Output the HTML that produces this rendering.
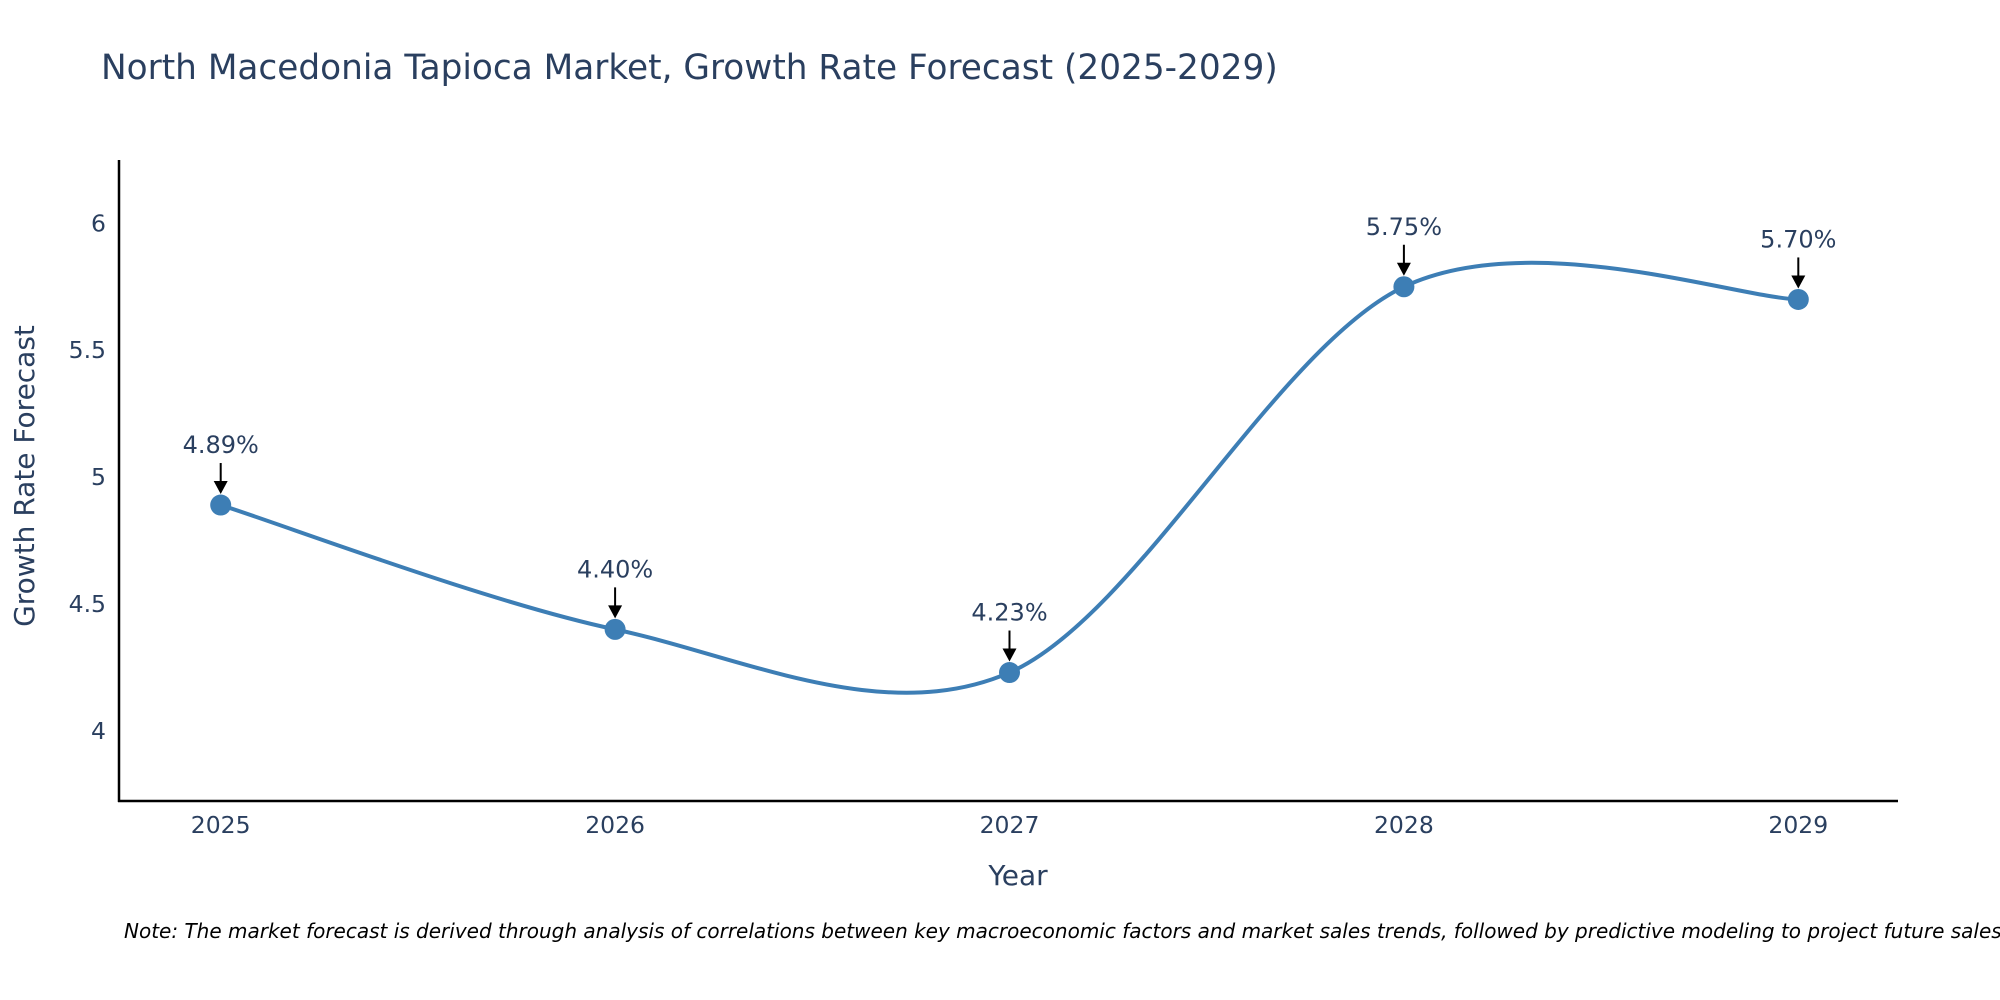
<!DOCTYPE html>
<html><head><meta charset="utf-8"><style>
html,body{margin:0;padding:0;background:#fff;}
svg{display:block;font-family:"DejaVu Sans","Liberation Sans",sans-serif;}
</style></head><body>
<svg id="chart" width="2000" height="1000" viewBox="0 0 2000 1000">
<text x="101" y="79" font-size="34.3" fill="#2a3f5f">North Macedonia Tapioca Market, Growth Rate Forecast (2025-2029)</text>
<g id="yticks"></g>
<g id="xticks"></g>
<line x1="119" y1="160" x2="119" y2="802" stroke="#000" stroke-width="2.5"/>
<line x1="118" y1="801" x2="1898" y2="801" stroke="#000" stroke-width="2.5"/>
<g id="series"></g>
<g id="annots"></g>
<text x="1018" y="885" font-size="28" fill="#2a3f5f" text-anchor="middle">Year</text>
<text transform="translate(34,476) rotate(-90)" font-size="28" fill="#2a3f5f" text-anchor="middle">Growth Rate Forecast</text>
<text x="124" y="938" font-size="20" font-style="italic" fill="#000">Note: The market forecast is derived through analysis of correlations between key macroeconomic factors and market sales trends, followed by predictive modeling to project future sales.</text>
</svg>
<script>
const years = [2025, 2026, 2027, 2028, 2029];
const growth = [4.89, 4.40, 4.23, 5.75, 5.70];
const labels = ["4.89%", "4.40%", "4.23%", "5.75%", "5.70%"];
const yTicks = [4, 4.5, 5, 5.5, 6];
const yTickLabels = ["4", "4.5", "5", "5.5", "6"];

const NS = "http://www.w3.org/2000/svg";
function xS(v){ return 220.7 + (v - 2025) * 394.4; }
function yS(v){ return 730.9 - (v - 4) * 253.8; }
function mk(tag, attrs, parent, txt){
  const e = document.createElementNS(NS, tag);
  for (const k in attrs) e.setAttribute(k, attrs[k]);
  if (txt !== undefined) e.textContent = txt;
  parent.appendChild(e);
  return e;
}
const yt = document.getElementById('yticks');
yTicks.forEach((v, i) => {
  const t = mk('text', {x: 106, y: yS(v) + 8, 'font-size': 23.5, fill: '#2a3f5f', 'text-anchor': 'end'}, yt, yTickLabels[i]);
  
  
});
const xt = document.getElementById('xticks');
years.forEach(v => {
  const t = mk('text', {x: xS(v), y: 833, 'font-size': 23.5, fill: '#2a3f5f', 'text-anchor': 'middle'}, xt, String(v));
  
  
});
const pts = years.map((y, i) => [xS(y), yS(growth[i])]);
let d = `M${pts[0][0]},${pts[0][1]}`;
const k = 0.16;
for (let i = 0; i < pts.length - 1; i++) {
  const p0 = pts[Math.max(0, i - 1)], p1 = pts[i], p2 = pts[i + 1], p3 = pts[Math.min(pts.length - 1, i + 2)];
  const c1 = [p1[0] + (p2[0] - p0[0]) * k, p1[1] + (p2[1] - p0[1]) * k];
  const c2 = [p2[0] - (p3[0] - p1[0]) * k, p2[1] - (p3[1] - p1[1]) * k];
  d += ` C${c1[0]},${c1[1]} ${c2[0]},${c2[1]} ${p2[0]},${p2[1]}`;
}
const s = document.getElementById('series');
const line = mk('path', {d: d, fill: 'none', stroke: '#3d7eb5', 'stroke-width': 4}, s);


pts.forEach(p => {
  const c = mk('circle', {cx: p[0], cy: p[1], r: 10.5, fill: '#3d7eb5'}, s);
  
  
});
const an = document.getElementById('annots');
pts.forEach((p, i) => {
  const l = mk('line', {x1: p[0], y1: p[1] - 42, x2: p[0], y2: p[1] - 22, stroke: '#000', 'stroke-width': 2}, an);
  
  
  const h = mk('path', {d: `M${p[0]-7},${p[1]-24} L${p[0]+7},${p[1]-24} L${p[0]},${p[1]-11} Z`, fill: '#000'}, an);
  
  
  const t = mk('text', {x: p[0], y: p[1] - 52, 'font-size': 24, fill: '#2a3f5f', 'text-anchor': 'middle'}, an, labels[i]);
  
  
});
</script>
</body></html>
